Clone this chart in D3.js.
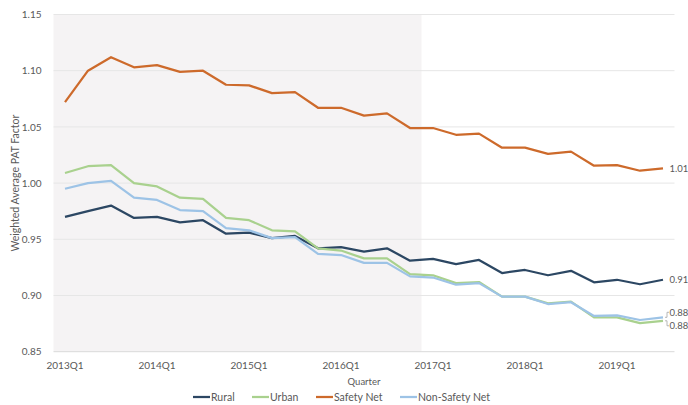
<!DOCTYPE html>
<html>
<head>
<meta charset="utf-8">
<script src="https://cdn.jsdelivr.net/npm/d3@7"></script>
<style>
  body { margin: 0; background: #fff; }
  text { font-family: Lato, "Open Sans", sans-serif; fill: #595959; }
</style>
</head>
<body>
<svg id="chart" width="688" height="405"></svg>
<script>
const quarters = [];
for (let yr = 2013; yr <= 2019; yr++) {
  for (let q = 1; q <= 4; q++) {
    if (yr === 2019 && q === 4) break;
    quarters.push(yr + "Q" + q);
  }
}

const rural = [0.970, 0.975, 0.980, 0.969, 0.970, 0.965, 0.967, 0.955, 0.956, 0.951, 0.953,
  0.942, 0.943, 0.939, 0.942, 0.931, 0.9325, 0.928, 0.9316, 0.920, 0.9227, 0.918, 0.922,
  0.9117, 0.914, 0.910, 0.914];
const urban = [1.009, 1.015, 1.016, 1.000, 0.997, 0.987, 0.986, 0.969, 0.967, 0.958, 0.957,
  0.942, 0.940, 0.933, 0.933, 0.919, 0.918, 0.911, 0.912, 0.899, 0.899, 0.893, 0.8945,
  0.8806, 0.8806, 0.8755, 0.8775];
const safetyNet = [1.072, 1.100, 1.112, 1.103, 1.105, 1.099, 1.100, 1.0875, 1.087, 1.080, 1.081,
  1.067, 1.067, 1.060, 1.062, 1.049, 1.049, 1.043, 1.044, 1.0315, 1.0315, 1.026, 1.028,
  1.0155, 1.016, 1.011, 1.013];
const nonSafetyNet = [0.995, 1.000, 1.002, 0.987, 0.985, 0.976, 0.975, 0.960, 0.958, 0.951, 0.952,
  0.937, 0.936, 0.929, 0.929, 0.917, 0.916, 0.9096, 0.911, 0.899, 0.899, 0.8924, 0.894,
  0.8818, 0.8824, 0.8782, 0.8806];
const yTicks = [0.85, 0.90, 0.95, 1.00, 1.05, 1.10, 1.15];
const xTickLabels = ["2013Q1", "2014Q1", "2015Q1", "2016Q1", "2017Q1", "2018Q1", "2019Q1"];
const shadedUntil = "2016Q4";

const series = [
  { name: "Rural", values: rural, color: "#2c4763", end: "0.91", endDy: 0 },
  { name: "Urban", values: urban, color: "#a9d18e", end: "0.88", endDy: 5 },
  { name: "Safety Net", values: safetyNet, color: "#cd6a2b", end: "1.01", endDy: 0 },
  { name: "Non-Safety Net", values: nonSafetyNet, color: "#9dc3e6", end: "0.88", endDy: -5 }
];

const svg = d3.select("#chart");
const plotLeft = 53.5, plotRight = 674.5, plotTop = 14.5, plotBottom = 351.7;

const x = d3.scaleBand().domain(quarters).range([plotLeft, plotRight]);
const xc = (q) => x(q) + x.bandwidth() / 2;
const y = d3.scaleLinear().domain([0.85, 1.15]).range([plotBottom, plotTop]);

// shaded period
svg.append("rect")
  .attr("x", plotLeft)
  .attr("y", y(1.15))
  .attr("width", x(shadedUntil) + x.bandwidth() - plotLeft)
  .attr("height", y(0.85) - y(1.15))
  .attr("fill", "#f5f3f4");

// gridlines
svg.append("g")
  .selectAll("line")
  .data(yTicks)
  .enter()
  .append("line")
  .attr("x1", plotLeft)
  .attr("x2", plotRight)
  .attr("y1", (d) => y(d))
  .attr("y2", (d) => y(d))
  .attr("stroke", (d) => (d === 0.85 ? "#d9d9d9" : "#e6e6e6"))
  .attr("stroke-width", 1);

// y axis
const yAxis = svg.append("g")
  .attr("transform", `translate(${plotLeft - 9},0)`)
  .call(d3.axisLeft(y).tickValues(yTicks).tickFormat(d3.format(".2f")).tickSize(0));
yAxis.select(".domain").remove();
yAxis.selectAll("text").attr("font-size", 10).attr("fill", "#595959")
  .style("font-family", "Lato, sans-serif");

// x axis
const xAxis = svg.append("g")
  .attr("transform", `translate(0,${plotBottom + 7})`)
  .call(d3.axisBottom(x).tickValues(xTickLabels).tickSize(0));
xAxis.select(".domain").remove();
xAxis.selectAll("text").attr("font-size", 10).attr("fill", "#595959")
  .style("font-family", "Lato, sans-serif");

// axis titles
svg.append("text")
  .attr("x", (plotLeft + plotRight) / 2)
  .attr("y", 385)
  .attr("text-anchor", "middle")
  .attr("font-size", 9.5)
  .text("Quarter");

svg.append("text")
  .attr("transform", `translate(19,${(plotTop + plotBottom) / 2}) rotate(-90)`)
  .attr("text-anchor", "middle")
  .attr("font-size", 10.5)
  .text("Weighted Average PAT Factor");

// lines
const line = d3.line()
  .x((d, i) => xc(quarters[i]))
  .y((d) => y(d));

svg.append("g")
  .selectAll("path")
  .data(series)
  .enter()
  .append("path")
  .attr("d", (s) => line(s.values))
  .attr("fill", "none")
  .attr("stroke", (s) => s.color)
  .attr("stroke-width", 2.25)
  .attr("stroke-linejoin", "round");

// end labels
const last = quarters[quarters.length - 1];
series.forEach((s) => {
  const v = s.values[s.values.length - 1];
  const ly = y(v) + s.endDy;
  if (s.endDy !== 0) {
    svg.append("path")
      .attr("d", `M${xc(last) + 2},${y(v)} L${xc(last) + 4},${y(v)} L${xc(last) + 4},${ly} L${xc(last) + 6},${ly}`)
      .attr("fill", "none")
      .attr("stroke", "#a6a6a6")
      .attr("stroke-width", 0.8);
  }
  svg.append("text")
    .attr("x", xc(last) + 6.5)
    .attr("y", ly)
    .attr("dy", "0.35em")
    .attr("font-size", 9.5)
    .text(s.end);
});

// legend
const legendX = [193, 252, 316, 400];
const legend = svg.append("g")
  .selectAll("g")
  .data(series)
  .enter()
  .append("g")
  .attr("transform", (s, i) => `translate(${legendX[i]},397)`);

legend.append("line")
  .attr("x1", 0)
  .attr("x2", 17)
  .attr("stroke", (s) => s.color)
  .attr("stroke-width", 2.25);

legend.append("text")
  .attr("x", 18)
  .attr("dy", "0.35em")
  .attr("font-size", 10.5)
  .text((s) => s.name);
</script>
</body>
</html>
